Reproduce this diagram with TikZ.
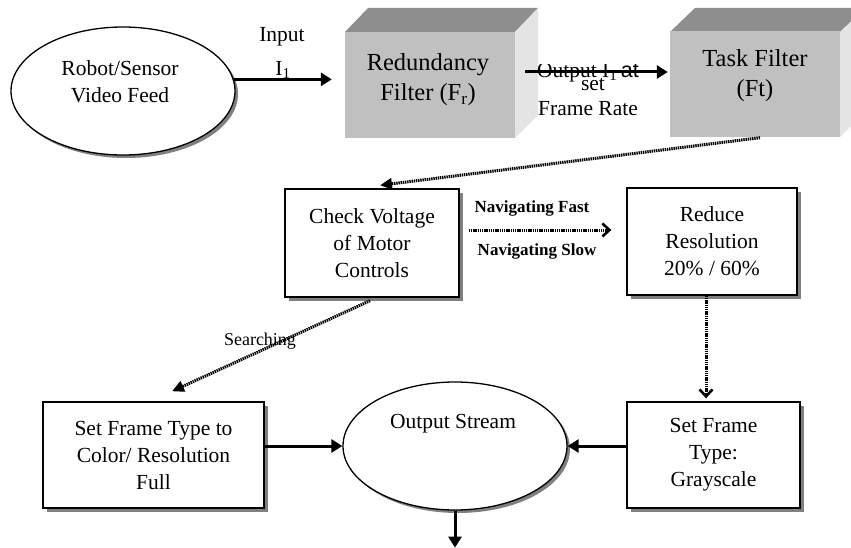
\documentclass[tikz,border=0pt]{standalone}
\usepackage{fontspec}
\setmainfont{Liberation Serif}
\setsansfont{Liberation Sans}
\usetikzlibrary{shapes.geometric,arrows.meta,shadows,calc}

\definecolor{faceFront}{HTML}{C0C0C0}
\definecolor{faceTop}{HTML}{8E8E8E}
\definecolor{faceSide}{HTML}{E4E4E4}
\definecolor{shade}{HTML}{808080}

\tikzset{
  txt/.style={font=\fontsize{21.5}{27}\selectfont, align=center, inner sep=0pt},
  cubetxt/.style={font=\fontsize{24.5}{30}\selectfont, align=center, inner sep=0pt},
  smalltxt/.style={font=\fontsize{18}{22}\selectfont, inner sep=0pt},
  boldtxt/.style={font=\fontsize{17}{21}\selectfont\bfseries, inner sep=0pt},
  procbox/.style={rectangle, draw=black, line width=1.4pt, fill=white, txt,
    drop shadow={shadow xshift=4pt, shadow yshift=-4pt, fill=shade, opacity=1}},
  blob/.style={ellipse, draw=black, line width=1.3pt, fill=white, inner sep=0pt,
    minimum width=224pt, minimum height=128pt,
    drop shadow={shadow xshift=3pt, shadow yshift=-3pt, fill=shade, opacity=1}},
  cubeface/.style={rectangle, fill=faceFront, inner sep=0pt,
    minimum width=170pt, minimum height=106pt},
  solidarrow/.style={line width=3pt, -{Triangle[length=11pt,width=13pt]}},
  dotline/.style={line width=3pt, dash pattern=on 1.4pt off 0.8pt},
  dotfill/.style={dotline, -{Triangle[length=12pt,width=11pt]}},
  dotopen/.style={dotline, -{Straight Barb[length=7pt,width=13pt,line width=2.6pt]}},
}

\begin{document}
\begin{tikzpicture}[x=1pt,y=-1pt]
\clip (0,0) rectangle (851,548);

% video source
\node[blob] (robot) at (123,91) {};
\node[txt] (robottxt) at (120,82) {Robot/Sensor\\Video Feed};

% redundancy filter block
\fill[faceTop] (345,32) -- (368,8) -- (538,8) -- (515,32) -- cycle;
\fill[faceSide] (515,32) -- (538,8) -- (538,115) -- (515,138) -- cycle;
\node[cubeface] (red) at (430,85) {};
\node[cubetxt] (redtxt) at (428,80) {Redundancy\\Filter (F\textsubscript{r})};

% task filter block
\fill[faceTop] (670,32) -- (695,8) -- (865,8) -- (840,32) -- cycle;
\fill[faceSide] (840,32) -- (865,8) -- (865,113) -- (840,137) -- cycle;
\node[cubeface] (task) at (755,84.5) {};
\node[cubetxt] (tasktxt) at (755,76) {Task Filter\\(Ft)};

% input into the redundancy filter
\draw[solidarrow, shorten >=13pt] (robot.6) -- (robot.6 -| red.west);
\node[txt] (inlbl) at (282,37) {Input};
\node[txt] (inidx) at (283,70) {I\textsubscript{1}};

% output of the redundancy filter
\draw[solidarrow] ($(red.east)+(10,-13)$) -- ($(task.west)+(-2,-12.5)$);
\begin{scope}
  \clip (520,64.5) rectangle (660,120);
  \node[txt, anchor=base] (outlbl) at (588,77.5) {Output I\textsubscript{1}\,{\sffamily at}};
\end{scope}
\node[txt] (setlbl) at (593,85) {set};
\node[txt] (ratelbl) at (588,109) {Frame Rate};

% processing steps
\node[procbox, minimum width=174pt, minimum height=108pt] (check) at (372,243)
  {Check Voltage\\of Motor\\Controls};
\node[procbox, minimum width=170pt, minimum height=107pt] (reduce) at (712,241.5)
  {Reduce\\Resolution\\20\% / 60\%};
\node[procbox, minimum width=221pt, minimum height=106pt] (setcolor) at (153.5,455)
  {Set Frame Type to\\Color/ Resolution\\Full};
\node[procbox, minimum width=173pt, minimum height=106pt] (setgray) at (713.5,455)
  {Set Frame\\Type:\\Grayscale};

% output stream
\node[blob] (out) at (455,446) {};
\node[txt] (outtxt) at (453,424) {Output Stream};

% dotted control flow
\draw[dotfill] ($(task.south)+(5,0)$) -- ($(check.north)+(8,-3)$);
\draw[dotopen] ($(check.east)+(9,-13)$) -- ($(reduce.west)+(-15,-11.5)$);
\node[boldtxt] (fastlbl) at (532,208) {Navigating Fast};
\node[boldtxt] (slowlbl) at (537,251) {Navigating Slow};
\draw[dotopen] ($(reduce.south)+(-6,0)$) -- ($(setgray.north)+(-7.5,-3)$);
\draw[dotfill] ($(check.south)+(-2,3)$) -- ($(setcolor.north)+(18.5,-10)$);
\node[smalltxt] (searchlbl) at (260,341) {Searching};

% into and out of the output stream
\draw[solidarrow] (out.west -| setcolor.east) -- (out.west);
\draw[solidarrow] (out.east -| setgray.west) -- (out.east);
\draw[solidarrow] (out.south) -- ++(0,37);
\end{tikzpicture}
\end{document}
